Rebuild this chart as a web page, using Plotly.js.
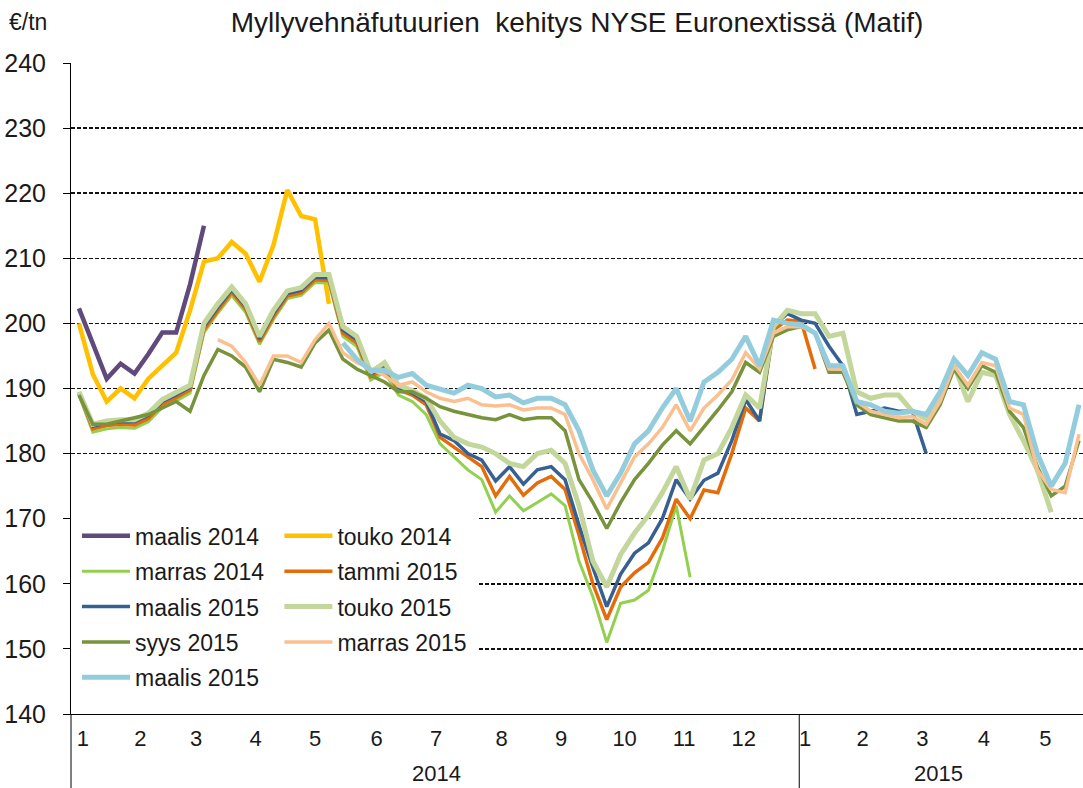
<!DOCTYPE html>
<html>
<head>
<meta charset="utf-8">
<script src="https://cdn.plot.ly/plotly-3.0.1.min.js"></script>
<style>html,body{margin:0;padding:0;background:#fff;}#chart{width:1083px;height:788px;}</style>
</head>
<body>
<div id="chart"></div>
<script>
// Weekly observation dates (Fridays)
const dates = [
 '2014-01-03','2014-01-10','2014-01-17','2014-01-24','2014-01-31','2014-02-07','2014-02-14','2014-02-21','2014-02-28',
 '2014-03-07','2014-03-14','2014-03-21','2014-03-28','2014-04-04','2014-04-11','2014-04-18','2014-04-25',
 '2014-05-02','2014-05-09','2014-05-16','2014-05-23','2014-05-30','2014-06-06','2014-06-13','2014-06-20','2014-06-27',
 '2014-07-04','2014-07-11','2014-07-18','2014-07-25','2014-08-01','2014-08-08','2014-08-15','2014-08-22','2014-08-29',
 '2014-09-05','2014-09-12','2014-09-19','2014-09-26','2014-10-03','2014-10-10','2014-10-17','2014-10-24','2014-10-31',
 '2014-11-07','2014-11-14','2014-11-21','2014-11-28','2014-12-05','2014-12-12','2014-12-19','2014-12-26',
 '2015-01-02','2015-01-09','2015-01-16','2015-01-23','2015-01-30','2015-02-06','2015-02-13','2015-02-20','2015-02-27',
 '2015-03-06','2015-03-13','2015-03-20','2015-03-27','2015-04-03','2015-04-10','2015-04-17','2015-04-24',
 '2015-05-01','2015-05-08','2015-05-15','2015-05-22'
];

const maalis2014 = [202.3,197,191.5,193.8,192.3,195.3,198.6,198.6,206,215,
 null,null,null,null,null,null,null,null,null,null,null,null,null,null,null,null,null,null,null,null,
 null,null,null,null,null,null,null,null,null,null,null,null,null,null,null,null,null,null,null,null,
 null,null,null,null,null,null,null,null,null,null,null,null,null,null,null,null,null,null,null,null,
 null,null,null];

const touko2014 = [200,192.2,188,190,188.5,191.5,193.5,195.5,202,209.5,210,212.5,210.7,206.4,212,220.5,216.5,216,203,
 null,null,null,null,null,null,null,null,null,null,null,null,null,null,null,null,null,null,null,null,null,
 null,null,null,null,null,null,null,null,null,null,null,null,null,null,null,null,null,null,null,null,null,
 null,null,null,null,null,null,null,null,null,null,null,null];

const marras2014 = [189,183.3,183.8,184,183.9,184.9,187.1,188.1,189.3,198.6,201.6,204.3,201.7,196.8,200.6,203.8,204.3,206.3,206.2,198,196.5,191.3,192.5,
 189,188,186,181.5,179.5,177.5,176,171,173.5,171.2,172.5,173.8,172,163.5,158,151,157,157.5,159,165,172,161,
 null,null,null,null,null,null,null,null,null,null,null,null,null,null,null,null,null,null,null,null,
 null,null,null,null,null,null,null,null];

const tammi2015 = [189.2,183.8,184.3,184.5,184.4,185.4,187.6,188.6,189.8,199,202,204.8,202.2,197.2,201,204.2,204.7,206.7,206.6,198.5,197,191.8,193,
 189.8,189,187.5,182.5,181,179.5,178,173.5,176.5,173.6,175.5,176.5,174.5,167.5,160,154.5,159.5,161.7,163.3,167,173,170,
 174.4,174,180,187,185,199,200.5,200.3,193,
 null,null,null,null,null,null,null,null,null,null,null,null,null,null,null,null,null,null,null];

const maalis2015 = [189.3,184.2,184.7,184.9,184.9,185.9,188,189,190.2,199.5,202.5,205.2,202.6,197.6,201.5,204.6,205.1,207.1,207,199,197.5,192.2,193.5,
 190.2,189.3,188,183,182,180,179,175.8,178,175.3,177.5,178,176,169,162.5,156.5,161.5,164.7,166.3,170,176,173,
 175.9,177,182,188.3,185,199.6,201.5,200.5,200,196.5,193.5,186,186.5,187,186.5,186.5,180,
 null,null,null,null,null,null,null,null,null,null,null];

const touko2015 = [189.5,184.5,185,185.2,185.2,186.2,188.3,189.3,190.5,200,203,205.6,203,198,202,205,205.5,207.5,207.5,199.5,198,192.5,194,
 190.5,189.7,188.5,185,182.5,181.5,181,180,178.5,178,180,180.5,178.5,172,163.5,159.5,164.5,167.8,170.5,174,178,173,
 179,180,184,189,187,199.5,202,201.5,201.5,198,198.5,189.5,188.5,189,189,186.5,185.3,188,193.5,188,192.5,192,186,182,177.5,171,
 null,null];

const syys2015 = [189,184.5,184.5,185,185.5,186,187,188,186.5,192,196,195,193.3,189.5,194.5,194,193.3,197,199,194.5,193,192,191,
 189.5,189.5,188.5,187.2,186.5,186,185.5,185.2,186,185.2,185.5,185.5,183.5,176,172.5,168.5,172.5,176,178.5,181.3,183.5,181.5,
 184,186.7,189.5,194,192.5,198,199,199.5,198.5,192.5,192.5,187.5,186,185.5,185,185,184,187.5,193,190,193.5,192.5,186.5,184,178,173.5,175,182];

const marras2015 = [null,null,null,null,null,null,null,null,null,null,
 197.5,196.5,194,190.5,195,195,194,197.5,200,195.5,194,193,192,
 190.5,191,189.5,188.5,188,188.5,187.5,187.3,187.5,186.7,187,187,186,180,176,171.5,175.5,179.5,181.5,184,187.5,183.5,
 187,189,191.3,195.5,193,198.5,199.5,199.5,198.5,193,193,188,186.5,186,185.5,185.7,184.5,188,193.5,190.5,194,193.5,187,186,177.5,174.5,174,183];

const maalis2016 = [null,null,null,null,null,null,null,null,null,null,null,null,null,null,null,null,null,null,null,
 197,194.5,192.8,192.8,
 191.7,192.3,190.5,189.8,189.3,190.5,190,188.7,189,187.8,188.5,188.5,187.5,183.5,177.5,173.5,177,181.5,183.5,187,190,185,
 191,192.5,194.5,198,193.5,200.5,200,199.8,198.5,193.5,193.5,188,187.5,186.5,186.2,186.5,186,189.5,194.5,192,195.5,194.5,188,187.5,180,175,178.5,187.5];

const seriesNames = ['maalis 2014','touko 2014','marras 2014','tammi 2015','maalis 2015','touko 2015','syys 2015','marras 2015','maalis 2015'];
const seriesValues = [maalis2014,touko2014,marras2014,tammi2015,maalis2015,touko2015,syys2015,marras2015,maalis2016];

const monthLabels = ['1','2','3','4','5','6','7','8','9','10','11','12','1','2','3','4','5'];
const monthLabelDates = ['2014-01-05','2014-02-03','2014-03-03','2014-04-02','2014-05-02','2014-06-02','2014-07-02','2014-08-04',
 '2014-09-03','2014-10-05','2014-11-04','2014-12-04','2015-01-04','2015-02-02','2015-03-04','2015-04-04','2015-05-05'];
const yearLabels = ['2014','2015'];

// styles
const colors = ['#604A7B','#FFC000','#92D050','#E46C0A','#376092','#C3D69B','#77933C','#FAC090','#93CDDD'];
const widths = [4.5,4.5,3,3.5,3.5,5,3.5,3.5,5];
const legendOf = ['legend','legend2','legend','legend2','legend','legend2','legend','legend2','legend'];

const FONT = 'Arial, "Liberation Sans", sans-serif';

const traces = seriesValues.map((vals, k) => ({
  type: 'scatter', mode: 'lines',
  x: dates, y: vals,
  name: seriesNames[k],
  legend: legendOf[k],
  legendgroup: 'g' + k,
  line: {color: colors[k], width: widths[k]},
  connectgaps: false,
  hoverinfo: 'skip'
}));

const legendCommon = {
  bgcolor: '#ffffff', bordercolor: '#ffffff', borderwidth: 6,
  font: {family: FONT, size: 23, color: '#1a1a1a'},
  tracegroupgap: 2.5, itemwidth: 48,
  xanchor: 'left', yanchor: 'top', orientation: 'v'
};

const layout = {
  width: 1083, height: 788,
  margin: {l: 71, r: 0, t: 63, b: 74, pad: 0},
  paper_bgcolor: '#ffffff', plot_bgcolor: '#ffffff',
  font: {family: FONT, color: '#1a1a1a'},
  title: {text: 'Myllyvehnäfutuurien\u00a0 kehitys NYSE Euronextissä (Matif)',
          font: {family: FONT, size: 28, color: '#1a1a1a'},
          x: 0.5, xref: 'paper', xanchor: 'center', y: 1 - 22/788, yref: 'container', yanchor: 'middle'},
  showlegend: true,
  legend: Object.assign({}, legendCommon, {x: 0.0, y: 0.316}),
  legend2: Object.assign({}, legendCommon, {x: 0.2, y: 0.316}),
  xaxis: {
    type: 'date', range: ['2013-12-30', '2015-05-24'],
    tickmode: 'array', tickvals: monthLabelDates, ticktext: monthLabels,
    ticks: '', showgrid: false, zeroline: false,
    showline: true, linecolor: '#000', linewidth: 1,
    tickfont: {family: FONT, size: 22, color: '#1a1a1a'},
    ticklabelstandoff: 5
  },
  yaxis: {
    range: [140, 240], dtick: 10, tick0: 140,
    ticks: 'outside', ticklen: 7, tickcolor: '#000', tickwidth: 1,
    showline: true, linecolor: '#000', linewidth: 1,
    showgrid: true, gridcolor: '#111', gridwidth: 1.5, griddash: '4px,2px',
    zeroline: false,
    tickfont: {family: FONT, size: 25, color: '#1a1a1a'},
    ticklabelstandoff: 12
  },
  shapes: [
    {type: 'line', xref: 'paper', yref: 'paper', x0: 0, x1: 0, y0: 0, y1: -0.12, line: {color: '#000', width: 1}},
    {type: 'line', xref: 'x', yref: 'paper', x0: '2015-01-01', x1: '2015-01-01', y0: 0, y1: -0.12, line: {color: '#000', width: 1}}
  ],
  annotations: [
    {text: '€/tn', xref: 'paper', yref: 'paper', x: -0.063, y: 1 + 41/651, xanchor: 'left', yanchor: 'middle',
     showarrow: false, font: {family: FONT, size: 23, color: '#1a1a1a'}},
    {text: yearLabels[0], xref: 'x', yref: 'paper', x: '2014-07-02', y: -59/651, xanchor: 'center', yanchor: 'middle',
     showarrow: false, font: {family: FONT, size: 22, color: '#1a1a1a'}},
    {text: yearLabels[1], xref: 'x', yref: 'paper', x: '2015-03-12', y: -59/651, xanchor: 'center', yanchor: 'middle',
     showarrow: false, font: {family: FONT, size: 22, color: '#1a1a1a'}}
  ]
};

Plotly.newPlot('chart', traces, layout, {staticPlot: true, displayModeBar: false});
</script>
</body>
</html>
